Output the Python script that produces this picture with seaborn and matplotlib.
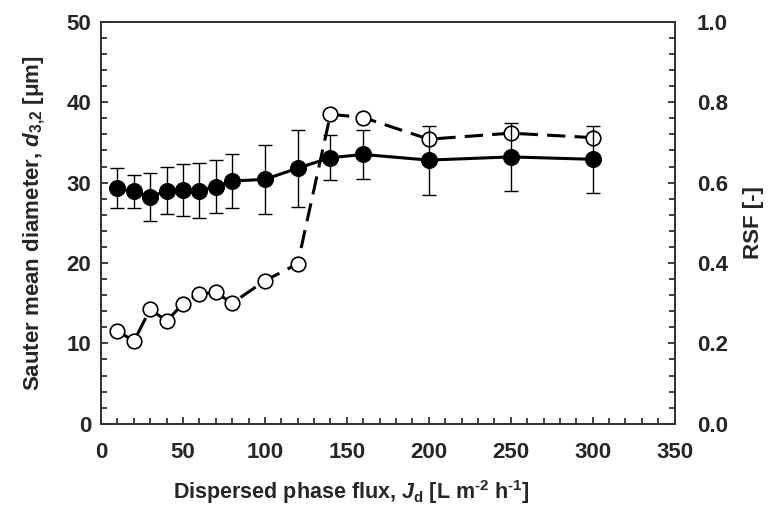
import numpy as np
import pandas as pd
import matplotlib
matplotlib.use("Agg")
import matplotlib.pyplot as plt
from matplotlib.ticker import MultipleLocator
import seaborn as sns

# Data
flux = [10, 20, 30, 40, 50, 60, 70, 80, 100, 120, 140, 160, 200, 250, 300]
d32 = [29.3, 28.9, 28.2, 29.0, 29.1, 29.0, 29.5, 30.2, 30.4, 31.8, 33.1, 33.5, 32.8, 33.2, 32.9]
d32_err = [2.5, 2.0, 3.0, 2.9, 3.2, 3.4, 3.3, 3.4, 4.3, 4.8, 2.8, 3.0, 4.3, 4.2, 4.2]
rsf = [0.232, 0.205, 0.285, 0.256, 0.298, 0.323, 0.327, 0.300, 0.356, 0.398,
       0.770, 0.762, 0.708, 0.723, 0.712]

x_ticks = [0, 50, 100, 150, 200, 250, 300, 350]
y1_ticks = [0, 10, 20, 30, 40, 50]
y2_ticks = [0.0, 0.2, 0.4, 0.6, 0.8, 1.0]

df = pd.DataFrame({"flux": flux, "d32": d32, "err": d32_err, "rsf": rsf})

sns.set_theme(style="ticks")
plt.rcParams["font.family"] = ["Liberation Sans", "DejaVu Sans"]
plt.rcParams["font.weight"] = "bold"
plt.rcParams["mathtext.fontset"] = "custom"
plt.rcParams["mathtext.rm"] = "Liberation Sans:bold"
plt.rcParams["mathtext.it"] = "Liberation Sans:bold:italic"
plt.rcParams["mathtext.bf"] = "Liberation Sans:bold"

fig = plt.figure(figsize=(7.71, 5.20), dpi=100)
ax1 = fig.add_axes([0.131, 0.185, 0.744, 0.773])
ax2 = ax1.twinx()

# RSF (right axis), dashed open circles
sns.lineplot(data=df, x="flux", y="rsf", ax=ax2, color="black", linewidth=2.2,
             marker="o", markersize=10.5, markerfacecolor="white",
             markeredgecolor="black", markeredgewidth=1.2, zorder=2)
ax2.lines[0].set_dashes([6, 3])

# Sauter mean diameter (left axis), solid filled circles with error bars
ax1.set_zorder(ax2.get_zorder() + 1)
ax1.patch.set_visible(False)
ax1.errorbar(df["flux"], df["d32"], yerr=df["err"], fmt="none", ecolor="black",
             elinewidth=1.0, capsize=5, capthick=1.0, zorder=3)
sns.lineplot(data=df, x="flux", y="d32", ax=ax1, color="black", linewidth=2.2,
             marker="o", markersize=11.5, markerfacecolor="black",
             markeredgecolor="black", zorder=4)

ax1.set_xlim(0, 350)
ax1.set_ylim(0, 50)
ax2.set_ylim(0, 1.0)
ax1.set_xticks(x_ticks)
ax1.set_yticks(y1_ticks)
ax2.set_yticks(y2_ticks)
ax1.set_yticklabels([str(v) for v in y1_ticks])
ax2.set_yticklabels([f"{v:.1f}" for v in y2_ticks])
ax1.xaxis.set_minor_locator(MultipleLocator(10))
ax1.yaxis.set_minor_locator(MultipleLocator(2))
ax2.yaxis.set_minor_locator(MultipleLocator(0.04))

for a in (ax1, ax2):
    for s in a.spines.values():
        s.set_visible(True)
        s.set_linewidth(1.3)
        s.set_color("#333333")

ax1.tick_params(axis="both", which="both", direction="in", labelsize=16,
                width=1.2, color="#222222")
ax1.tick_params(axis="both", which="major", length=5)
ax1.tick_params(axis="both", which="minor", length=4)
ax1.tick_params(axis="y", which="both", left=True, right=False, pad=7)
ax1.tick_params(axis="x", which="both", top=False, pad=13)
ax2.tick_params(axis="y", which="both", direction="in", labelsize=16, width=1.2,
                right=True, left=False, pad=16, color="#222222")
ax2.tick_params(axis="y", which="major", length=5)
ax2.tick_params(axis="y", which="minor", length=4)
for lab in ax1.get_xticklabels() + ax1.get_yticklabels() + ax2.get_yticklabels():
    lab.set_fontweight("bold")

ax1.set_xlabel(r"Dispersed phase flux, $J_\mathrm{d}$ [L m$^{\text{-2}}$ h$^{\text{-1}}$]",
               fontsize=15.5, fontweight="bold", labelpad=12)
ax1.xaxis.set_label_coords(0.436, -0.135)
ax1.set_ylabel(r"Sauter mean diameter, $d_{\mathit{3{,}2}}$ [μm]", fontsize=16,
               fontweight="bold", labelpad=14)
ax2.set_ylabel("RSF [-]", fontsize=16, fontweight="bold", labelpad=11)

fig.savefig("out.png", dpi=100)
